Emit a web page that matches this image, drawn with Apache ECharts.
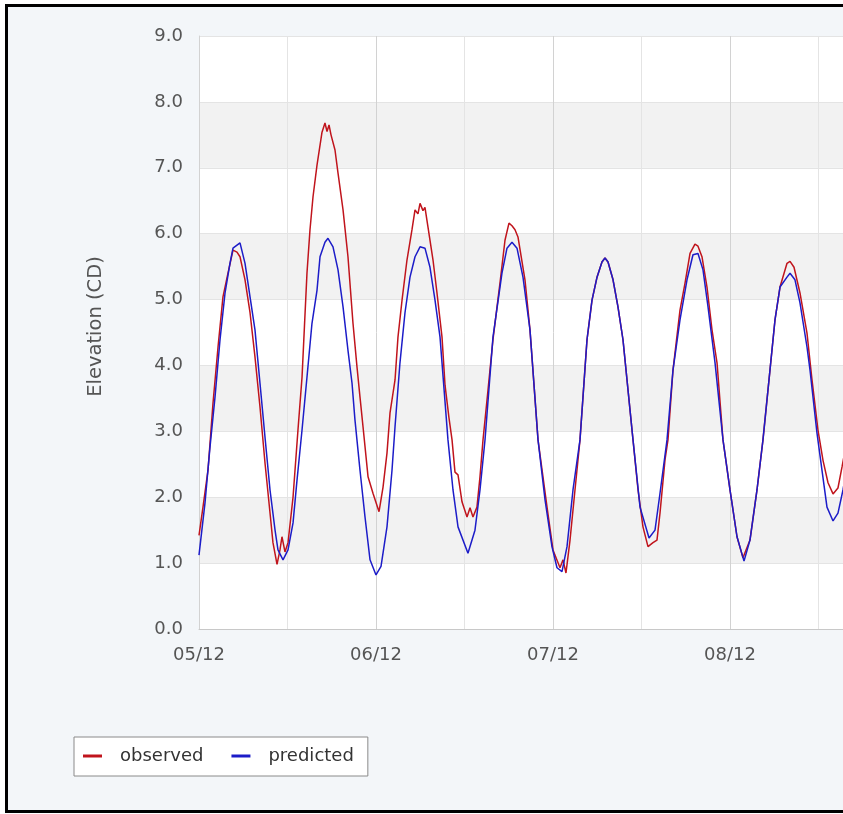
<!DOCTYPE html>
<html>
<head>
<meta charset="utf-8">
<script src="https://cdn.jsdelivr.net/npm/echarts@6/dist/echarts.min.js"></script>
<style>
  html, body { margin: 0; padding: 0; width: 843px; height: 814px; overflow: hidden; background: #ffffff; }
  #frame { position: absolute; left: 5px; top: 4px; width: 960px; height: 803px; border: 3px solid #000; border-right: none; background: #f3f6f9; box-sizing: content-box; }
  #chart { position: absolute; left: 0; top: 0; width: 920px; height: 814px; }
</style>
</head>
<body>
<div id="frame"></div>
<div id="chart"></div>
<script>
// Hours since 05/12 00:00
const dayLabels = ['05/12', '06/12', '07/12', '08/12', '09/12'];
const yTicks = [0, 1, 2, 3, 4, 5, 6, 7, 8, 9];

const obsHours = [0, 0.54, 1.22, 1.90, 2.58, 3.25, 3.93, 4.61, 5.15, 5.56, 6.24, 6.92, 7.59, 8.27, 8.95, 9.63, 10.03, 10.58, 10.98, 11.25, 11.66, 12.07, 12.75, 13.42, 13.97, 14.30, 14.64, 15.05, 15.46, 16.00, 16.68, 17.08, 17.36, 17.63, 17.90, 18.44, 18.85, 19.53, 20.20, 20.88, 21.42, 21.83, 22.24, 22.92, 23.59, 24.41, 24.95, 25.49, 25.90, 26.58, 26.98, 27.53, 28.20, 28.88, 29.29, 29.69, 29.97, 30.37, 30.64, 31.05, 31.73, 32.27, 32.95, 33.36, 33.90, 34.31, 34.71, 35.12, 35.66, 36.34, 36.75, 37.15, 37.69, 38.10, 38.51, 39.19, 39.86, 40.41, 40.81, 41.49, 42.03, 42.44, 42.85, 43.25, 44.20, 44.88, 45.97, 47.19, 48.00, 48.95, 49.36, 49.76, 50.31, 50.98, 51.66, 52.61, 53.29, 53.97, 54.64, 55.05, 55.46, 56.14, 56.81, 57.49, 58.85, 59.53, 60.20, 60.88, 61.56, 62.10, 62.51, 63.19, 63.59, 64.27, 65.22, 65.90, 66.58, 67.25, 67.66, 68.20, 68.88, 69.56, 70.24, 71.05, 72.00, 72.95, 73.76, 74.71, 75.66, 76.47, 77.42, 78.10, 78.78, 79.73, 80.14, 80.68, 81.49, 82.44, 83.10, 83.93, 84.61, 85.29, 85.97, 86.64, 87.19, 88.00];
const obsLevel = [1.42, 1.85, 2.41, 3.43, 4.28, 5.04, 5.40, 5.75, 5.72, 5.65, 5.30, 4.80, 4.13, 3.37, 2.52, 1.76, 1.31, 0.98, 1.20, 1.40, 1.17, 1.31, 2.00, 3.02, 3.82, 4.60, 5.40, 6.06, 6.56, 7.04, 7.54, 7.68, 7.55, 7.65, 7.50, 7.27, 6.92, 6.36, 5.65, 4.64, 3.98, 3.52, 3.07, 2.31, 2.06, 1.78, 2.15, 2.67, 3.28, 3.78, 4.43, 4.99, 5.60, 6.06, 6.36, 6.30, 6.46, 6.35, 6.40, 6.10, 5.60, 5.10, 4.43, 3.70, 3.20, 2.87, 2.38, 2.34, 1.93, 1.70, 1.84, 1.70, 1.85, 2.31, 2.87, 3.63, 4.39, 4.89, 5.25, 5.90, 6.16, 6.12, 6.06, 5.95, 5.30, 4.54, 2.87, 1.85, 1.20, 0.93, 1.05, 0.85, 1.35, 2.11, 2.87, 4.39, 4.99, 5.34, 5.57, 5.63, 5.57, 5.30, 4.89, 4.39, 2.87, 2.11, 1.55, 1.25, 1.31, 1.35, 1.76, 2.57, 2.87, 3.93, 4.84, 5.25, 5.70, 5.84, 5.81, 5.65, 5.19, 4.54, 4.04, 2.87, 2.11, 1.40, 1.08, 1.35, 2.11, 2.87, 3.93, 4.69, 5.19, 5.55, 5.58, 5.49, 5.10, 4.49, 3.80, 3.02, 2.56, 2.22, 2.05, 2.14, 2.46, 2.95];

const predHours = [0, 0.81, 1.49, 2.17, 2.85, 3.53, 4.20, 4.61, 5.56, 6.24, 6.92, 7.59, 8.27, 8.95, 9.63, 10.31, 10.71, 11.39, 12.07, 12.75, 13.29, 13.97, 14.64, 15.32, 16.00, 16.41, 17.08, 17.49, 18.17, 18.85, 19.53, 20.20, 20.75, 21.15, 21.83, 22.51, 23.19, 24.00, 24.68, 25.49, 26.17, 26.58, 27.25, 27.93, 28.61, 29.29, 29.97, 30.64, 31.32, 32.00, 32.68, 33.76, 34.44, 35.12, 36.47, 37.42, 38.10, 38.78, 39.86, 41.08, 41.76, 42.44, 43.12, 43.93, 44.88, 45.97, 46.92, 47.86, 48.54, 49.22, 49.90, 50.71, 51.66, 52.61, 53.29, 53.97, 54.64, 55.05, 55.46, 56.14, 56.81, 57.49, 58.85, 59.80, 61.02, 61.83, 62.51, 63.46, 64.27, 65.22, 66.17, 66.98, 67.66, 68.34, 69.02, 69.97, 71.05, 72.00, 72.95, 73.90, 74.71, 75.66, 76.47, 77.42, 78.10, 78.78, 79.73, 80.14, 80.81, 81.49, 82.44, 82.85, 83.80, 84.47, 85.15, 85.97, 86.64, 87.32, 88.00];
const predLevel = [1.12, 1.91, 2.76, 3.52, 4.39, 5.10, 5.55, 5.78, 5.86, 5.55, 5.04, 4.54, 3.73, 2.91, 2.11, 1.50, 1.20, 1.05, 1.20, 1.61, 2.26, 3.02, 3.82, 4.64, 5.14, 5.65, 5.87, 5.93, 5.80, 5.45, 4.89, 4.23, 3.73, 3.17, 2.41, 1.70, 1.05, 0.82, 0.95, 1.55, 2.41, 3.07, 4.04, 4.80, 5.34, 5.65, 5.80, 5.78, 5.49, 4.99, 4.43, 2.87, 2.11, 1.55, 1.15, 1.50, 2.11, 2.87, 4.43, 5.40, 5.78, 5.87, 5.78, 5.34, 4.54, 2.87, 1.96, 1.25, 0.93, 0.87, 1.25, 2.11, 2.87, 4.39, 4.99, 5.34, 5.57, 5.63, 5.57, 5.30, 4.89, 4.39, 2.87, 1.85, 1.38, 1.50, 2.06, 2.87, 3.93, 4.69, 5.30, 5.68, 5.70, 5.45, 4.89, 4.04, 2.87, 2.11, 1.40, 1.03, 1.35, 2.11, 2.87, 3.93, 4.69, 5.19, 5.34, 5.40, 5.30, 4.95, 4.28, 3.93, 2.97, 2.41, 1.85, 1.64, 1.76, 2.11, 2.55];

const seriesNames = ['observed', 'predicted'];
const seriesColors = ['#c0141c', '#1c1cc8'];

const chart = echarts.init(document.getElementById('chart'), null, { renderer: 'canvas' });
const font = 'DejaVu Sans, sans-serif';

chart.setOption({
  animation: false,
  backgroundColor: 'transparent',
  grid: { left: 199, top: 36, width: 708, height: 593, containLabel: false, outerBoundsMode: 'none' },
  xAxis: {
    type: 'value', min: 0, max: 96, interval: 12,
    axisLine: { show: true, lineStyle: { color: '#c8c8c8', width: 1 } },
    axisTick: { show: false },
    axisLabel: {
      color: '#555', fontFamily: font, fontSize: 18, margin: 17,
      formatter: v => (v % 24 === 0 ? dayLabels[v / 24] : '')
    },
    splitLine: { show: true, lineStyle: { color: ['#d2d2d2', '#e4e4e4'], width: 1 } }
  },
  yAxis: {
    type: 'value', min: yTicks[0], max: yTicks[yTicks.length - 1], interval: 1,
    name: 'Elevation (CD)', nameLocation: 'middle', nameGap: 93,
    nameTextStyle: { color: '#555', fontFamily: font, fontSize: 19.5, padding: [0, 0, 0, 12] },
    axisLine: { show: true, lineStyle: { color: '#d2d2d2', width: 1 } },
    axisTick: { show: false },
    axisLabel: { color: '#555', fontFamily: font, fontSize: 18, margin: 16, formatter: v => v.toFixed(1) },
    splitLine: { show: true, lineStyle: { color: '#e4e4e4', width: 1 } },
    splitArea: { show: true, areaStyle: { color: ['#ffffff', '#f2f2f2'] } }
  },
  legend: {
    left: 74, top: 737, orient: 'horizontal',
    padding: [10, 14, 11, 9],
    backgroundColor: '#ffffff', borderColor: '#8a8a8a', borderWidth: 1,
    icon: 'rect', itemWidth: 19, itemHeight: 3, itemGap: 28,
    textStyle: { color: '#333', fontFamily: font, fontSize: 18, padding: [0, 0, 0, 13] },
    data: seriesNames
  },
  series: [
    {
      name: seriesNames[0], type: 'line', showSymbol: false, symbol: 'none',
      color: seriesColors[0], lineStyle: { color: seriesColors[0], width: 1.5 },
      data: obsHours.map((h, i) => [h, obsLevel[i]]), z: 3
    },
    {
      name: seriesNames[1], type: 'line', showSymbol: false, symbol: 'none',
      color: seriesColors[1], lineStyle: { color: seriesColors[1], width: 1.5 },
      data: predHours.map((h, i) => [h, predLevel[i]]), z: 4
    }
  ]
});
</script>
</body>
</html>
